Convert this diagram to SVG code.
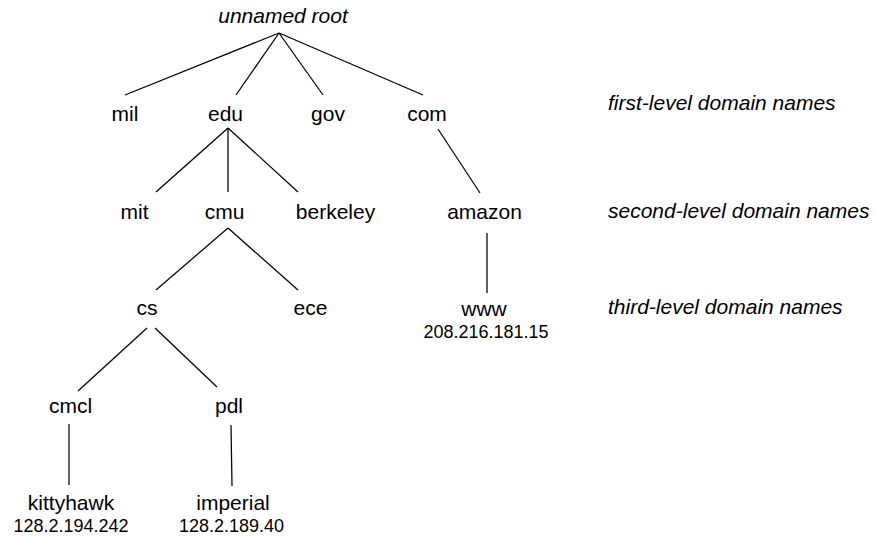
<svg xmlns="http://www.w3.org/2000/svg" width="877" height="536" viewBox="0 0 877 536">
<style>
text{font-family:"Liberation Sans",Arial,sans-serif;fill:#000;text-anchor:middle}
.n{font-size:21px}
.ip{font-size:18px}
.lvl{font-size:21px;font-style:italic;text-anchor:start}
.root{font-size:21px;font-style:italic}
#connectors line{stroke:#000;stroke-width:1.25;fill:none}
</style>
<rect width="877" height="536" fill="#fff"/>
<g id="connectors">
<line x1="279" y1="33" x2="125" y2="95"/>
<line x1="279" y1="33" x2="236" y2="95"/>
<line x1="279" y1="33" x2="323" y2="95"/>
<line x1="279" y1="33" x2="423" y2="95"/>
<line x1="228" y1="128" x2="156" y2="192"/>
<line x1="228" y1="128" x2="228" y2="192"/>
<line x1="228" y1="128" x2="298" y2="192"/>
<line x1="438" y1="129" x2="480" y2="193"/>
<line x1="487" y1="233" x2="487" y2="293"/>
<line x1="228" y1="228" x2="156" y2="290"/>
<line x1="228" y1="228" x2="298" y2="290"/>
<line x1="147" y1="328" x2="78" y2="391"/>
<line x1="155" y1="328" x2="217" y2="387"/>
<line x1="69" y1="424" x2="69" y2="485"/>
<line x1="231" y1="425" x2="232" y2="486"/>
</g>
<g id="root"><text class="root" x="283" y="23">unnamed root</text></g>
<g id="mil"><text class="n" x="125" y="121">mil</text></g>
<g id="edu"><text class="n" x="225.5" y="121">edu</text></g>
<g id="gov"><text class="n" x="328" y="121">gov</text></g>
<g id="com"><text class="n" x="427" y="121">com</text></g>
<g id="mit"><text class="n" x="134.5" y="219">mit</text></g>
<g id="cmu"><text class="n" x="224.5" y="219">cmu</text></g>
<g id="berkeley"><text class="n" x="335.5" y="219">berkeley</text></g>
<g id="amazon"><text class="n" x="484.5" y="219">amazon</text></g>
<g id="cs"><text class="n" x="147" y="315">cs</text></g>
<g id="ece"><text class="n" x="310.5" y="315">ece</text></g>
<g id="www"><text class="n" x="484" y="316">www</text><text class="ip" x="486" y="338">208.216.181.15</text></g>
<g id="cmcl"><text class="n" x="70.5" y="413">cmcl</text></g>
<g id="pdl"><text class="n" x="229" y="413">pdl</text></g>
<g id="kittyhawk"><text class="n" x="71" y="510">kittyhawk</text><text class="ip" x="71" y="532">128.2.194.242</text></g>
<g id="imperial"><text class="n" x="233" y="510">imperial</text><text class="ip" x="231.5" y="532">128.2.189.40</text></g>
<g id="level1"><text class="lvl" x="608" y="110">first-level domain names</text></g>
<g id="level2"><text class="lvl" x="608" y="218">second-level domain names</text></g>
<g id="level3"><text class="lvl" x="608" y="314">third-level domain names</text></g>
</svg>
